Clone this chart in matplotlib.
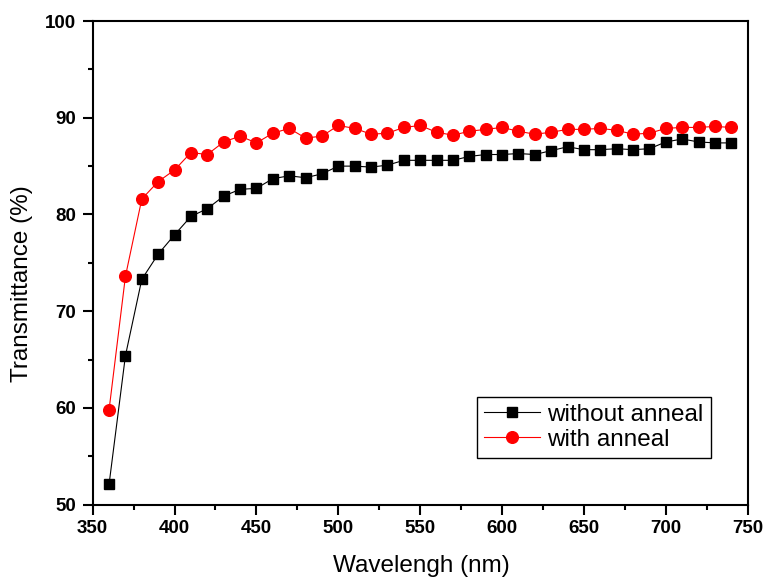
import matplotlib
matplotlib.use('Agg')
import matplotlib.pyplot as plt
from matplotlib.ticker import MultipleLocator

# wavelength (nm)
wavelength = [360, 370, 380, 390, 400, 410, 420, 430, 440, 450,
              460, 470, 480, 490, 500, 510, 520, 530, 540, 550,
              560, 570, 580, 590, 600, 610, 620, 630, 640, 650,
              660, 670, 680, 690, 700, 710, 720, 730, 740]

without_anneal = [52.1, 65.4, 73.3, 75.9, 77.9, 79.8, 80.6, 81.9, 82.6, 82.7,
                  83.7, 84.0, 83.8, 84.2, 85.0, 85.0, 84.9, 85.1, 85.6, 85.6,
                  85.6, 85.6, 86.0, 86.2, 86.2, 86.3, 86.2, 86.6, 87.0, 86.7,
                  86.7, 86.8, 86.7, 86.8, 87.5, 87.8, 87.5, 87.4, 87.4]

with_anneal = [59.8, 73.6, 81.6, 83.4, 84.6, 86.4, 86.2, 87.5, 88.1, 87.4,
               88.4, 88.9, 87.9, 88.1, 89.2, 88.9, 88.3, 88.4, 89.0, 89.2,
               88.5, 88.2, 88.6, 88.8, 89.0, 88.6, 88.3, 88.5, 88.8, 88.8,
               88.9, 88.7, 88.3, 88.4, 88.9, 89.0, 89.0, 89.1, 89.0]

plt.rcParams['font.family'] = ['Liberation Sans', 'DejaVu Sans']

fig = plt.figure(figsize=(7.71, 5.82), dpi=100)
ax = fig.add_axes([0.1202, 0.1328, 0.8496, 0.8311])

ax.plot(wavelength, without_anneal, color='black', linewidth=0.8, marker='s',
        markersize=7.8, label='without anneal')
ax.plot(wavelength, with_anneal, color='#ff0000', linewidth=0.8, marker='o',
        markersize=8.4, label='with anneal')

ax.set_xlim(350, 750)
ax.set_ylim(50, 100)
ax.xaxis.set_major_locator(MultipleLocator(50))
ax.xaxis.set_minor_locator(MultipleLocator(25))
ax.yaxis.set_major_locator(MultipleLocator(10))
ax.yaxis.set_minor_locator(MultipleLocator(5))

for s in ax.spines.values():
    s.set_linewidth(1.5)
ax.tick_params(which='major', direction='out', length=7.5, width=1.5,
               labelsize=13.5, top=False, right=False)
ax.tick_params(which='minor', direction='out', length=3.8, width=1.5,
               top=False, right=False)
ax.tick_params(axis='x', which='major', pad=3.3)
ax.tick_params(axis='y', which='major', pad=4.3)
for lab in ax.get_xticklabels() + ax.get_yticklabels():
    lab.set_fontweight('bold')

ax.set_xlabel('Wavelengh (nm)', fontsize=17.5)
ax.set_ylabel('Transmittance (%)', fontsize=17.5)
ax.xaxis.set_label_coords(0.502, -0.127)
ax.yaxis.set_label_coords(-0.108, 0.457)
ax.xaxis.label.set_va('center')
ax.yaxis.label.set_va('center')

leg = ax.legend(loc='upper left', bbox_to_anchor=(0.586, 0.2233),
                borderaxespad=0, fontsize=17.5, fancybox=False, framealpha=1,
                edgecolor='black', handlelength=2.3, handletextpad=0.3,
                borderpad=0.3, labelspacing=0.12)
leg.get_frame().set_linewidth(1.0)

fig.savefig('out.png', dpi=100)
